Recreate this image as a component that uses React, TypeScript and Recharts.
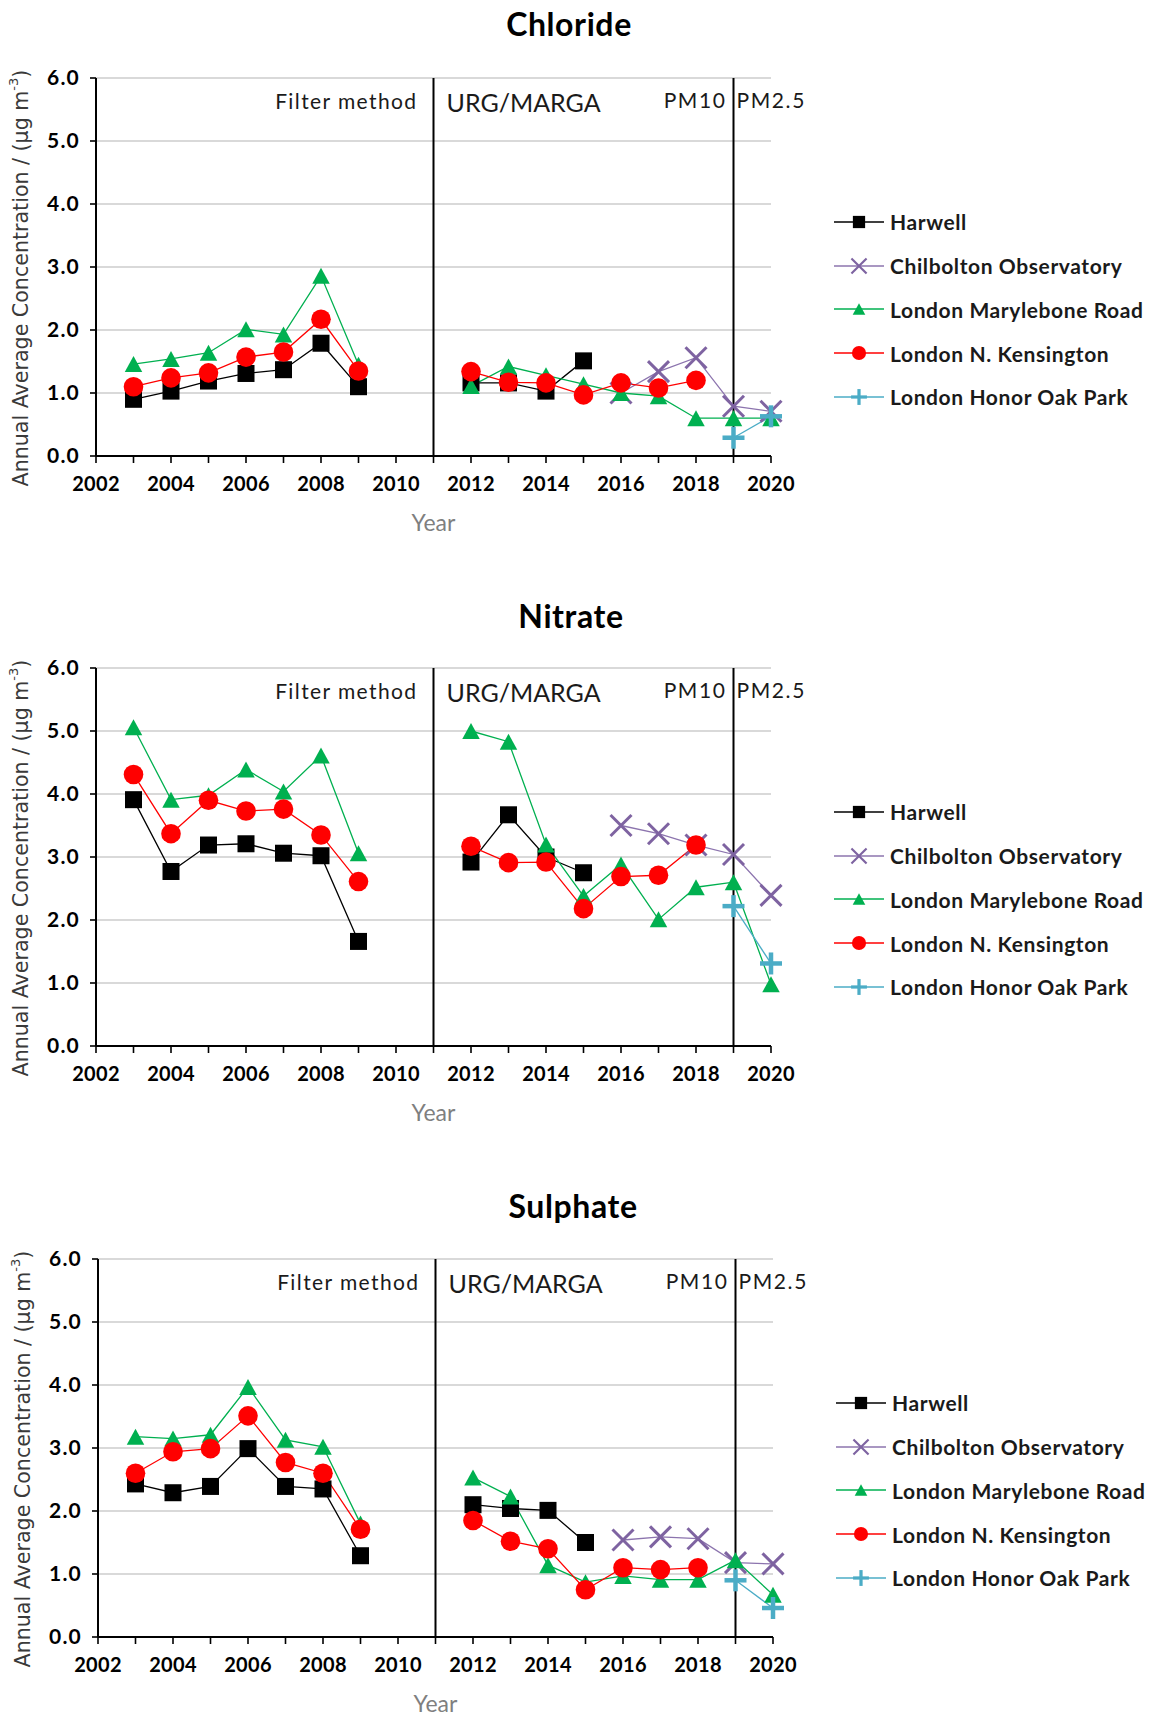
import React from 'react';
import { LineChart, Line, XAxis, YAxis, CartesianGrid, ReferenceLine, Legend } from 'recharts';

// Sampling years (2010 and 2011 carry no data so the series break between the two methods)
const years = [2003, 2004, 2005, 2006, 2007, 2008, 2009, 2010, 2011, 2012, 2013, 2014, 2015, 2016, 2017, 2018, 2019, 2020];
const yearTicks = [2002, 2003, 2004, 2005, 2006, 2007, 2008, 2009, 2010, 2011, 2012, 2013, 2014, 2015, 2016, 2017, 2018, 2019, 2020];
const concentrationTicks = [0, 1, 2, 3, 4, 5, 6];

// Chloride (µg m-3)
const chlorideHarwell = [0.9, 1.03, 1.19, 1.31, 1.37, 1.79, 1.1, null, null, 1.16, 1.16, 1.03, 1.51, null, null, null, null, null];
const chlorideChilbolton = [null, null, null, null, null, null, null, null, null, null, null, null, null, 1.0, 1.34, 1.56, 0.79, 0.71];
const chlorideMarylebone = [1.46, 1.54, 1.64, 2.01, 1.93, 2.86, 1.45, null, null, 1.11, 1.42, 1.28, 1.14, 1.0, 0.95, 0.6, 0.6, 0.6];
const chlorideKensington = [1.1, 1.24, 1.32, 1.57, 1.65, 2.17, 1.35, null, null, 1.34, 1.17, 1.16, 0.97, 1.16, 1.08, 1.2, null, null];
const chlorideHonorOak = [null, null, null, null, null, null, null, null, null, null, null, null, null, null, null, null, 0.29, 0.63];

// Nitrate (µg m-3)
const nitrateHarwell = [3.91, 2.77, 3.19, 3.21, 3.06, 3.02, 1.66, null, null, 2.92, 3.67, 3.0, 2.75, null, null, null, null, null];
const nitrateChilbolton = [null, null, null, null, null, null, null, null, null, null, null, null, null, 3.5, 3.37, 3.19, 3.04, 2.39];
const nitrateMarylebone = [5.06, 3.91, 3.98, 4.39, 4.04, 4.61, 3.06, null, null, 5.0, 4.83, 3.2, 2.38, 2.88, 2.01, 2.52, 2.6, 0.98];
const nitrateKensington = [4.31, 3.37, 3.9, 3.73, 3.76, 3.35, 2.61, null, null, 3.17, 2.91, 2.92, 2.18, 2.69, 2.71, 3.19, null, null];
const nitrateHonorOak = [null, null, null, null, null, null, null, null, null, null, null, null, null, null, null, null, 2.22, 1.31];

// Sulphate (µg m-3)
const sulphateHarwell = [2.43, 2.29, 2.39, 2.99, 2.39, 2.35, 1.29, null, null, 2.1, 2.04, 2.01, 1.5, null, null, null, null, null];
const sulphateChilbolton = [null, null, null, null, null, null, null, null, null, null, null, null, null, 1.54, 1.59, 1.56, 1.18, 1.16];
const sulphateMarylebone = [3.18, 3.15, 3.21, 3.97, 3.13, 3.02, 1.8, null, null, 2.53, 2.23, 1.14, 0.87, 0.97, 0.91, 0.91, 1.22, 0.67];
const sulphateKensington = [2.6, 2.94, 2.99, 3.51, 2.77, 2.6, 1.71, null, null, 1.85, 1.52, 1.4, 0.75, 1.1, 1.07, 1.1, null, null];
const sulphateHonorOak = [null, null, null, null, null, null, null, null, null, null, null, null, null, null, null, null, 0.9, 0.46];

type Shape = 'square' | 'cross' | 'triangle' | 'circle' | 'plus';

const SERIES: { key: string; name: string; color: string; line: string; shape: Shape }[] = [
  { key: 'harwell', name: 'Harwell', color: '#000000', line: '#000000', shape: 'square' },
  { key: 'chilbolton', name: 'Chilbolton Observatory', color: '#7E63A1', line: '#8C74AE', shape: 'cross' },
  { key: 'marylebone', name: 'London Marylebone Road', color: '#00B050', line: '#00B050', shape: 'triangle' },
  { key: 'kensington', name: 'London N. Kensington', color: '#FF0000', line: '#FF0000', shape: 'circle' },
  { key: 'honorOak', name: 'London Honor Oak Park', color: '#4BACC6', line: '#4BACC6', shape: 'plus' },
];

function buildRows(h: (number | null)[], c: (number | null)[], m: (number | null)[], k: (number | null)[], o: (number | null)[]) {
  return years.map((year, i) => ({
    year,
    harwell: h[i],
    chilbolton: c[i],
    marylebone: m[i],
    kensington: k[i],
    honorOak: o[i],
  }));
}

const PANELS = [
  { title: 'Chloride', top: 0, left: 0, titleX: 569, titleY: 24, rows: buildRows(chlorideHarwell, chlorideChilbolton, chlorideMarylebone, chlorideKensington, chlorideHonorOak) },
  { title: 'Nitrate', top: 590, left: 0, titleX: 571, titleY: 26, rows: buildRows(nitrateHarwell, nitrateChilbolton, nitrateMarylebone, nitrateKensington, nitrateHonorOak) },
  { title: 'Sulphate', top: 1181, left: 2, titleX: 571, titleY: 25, rows: buildRows(sulphateHarwell, sulphateChilbolton, sulphateMarylebone, sulphateKensington, sulphateHonorOak) },
];

const FONT = 'Lato, "Open Sans", sans-serif';

function markerShape(shape: Shape, color: string, cx: number, cy: number, scale: number, key?: string) {
  switch (shape) {
    case 'square': {
      const s = 17 * scale;
      return <rect key={key} x={cx - s / 2} y={cy - s / 2} width={s} height={s} fill={color} />;
    }
    case 'circle':
      return <circle key={key} cx={cx} cy={cy} r={9.8 * scale} fill={color} />;
    case 'triangle': {
      const w = 17.5 * scale;
      const h = 16 * scale;
      return (
        <polygon
          key={key}
          points={`${cx},${cy - h / 2} ${cx - w / 2},${cy + h / 2} ${cx + w / 2},${cy + h / 2}`}
          fill={color}
        />
      );
    }
    case 'cross': {
      const a = 10.5 * scale;
      return (
        <g key={key} stroke={color} strokeWidth={3 * scale}>
          <line x1={cx - a} y1={cy - a} x2={cx + a} y2={cy + a} />
          <line x1={cx - a} y1={cy + a} x2={cx + a} y2={cy - a} />
        </g>
      );
    }
    case 'plus': {
      const a = 11 * scale;
      return (
        <g key={key} stroke={color} strokeWidth={4.5 * scale}>
          <line x1={cx - a} y1={cy} x2={cx + a} y2={cy} />
          <line x1={cx} y1={cy - a} x2={cx} y2={cy + a} />
        </g>
      );
    }
  }
  return null;
}

function makeDot(shape: Shape, color: string, seriesKey: string) {
  return (props: any) => {
    const { cx, cy, value, index } = props;
    const k = `${seriesKey}-${index}`;
    if (cx == null || cy == null || value == null || (Array.isArray(value) && value[1] == null)) {
      return <g key={k} />;
    }
    return markerShape(shape, color, cx, cy, 1, k) as any;
  };
}

function MethodLabels(props: any) {
  const { viewBox, leftText, rightText, leftGap, rightGap, leftSize, rightSize, leftDy, rightDy, leftSpacing, rightSpacing } = props;
  if (!viewBox) return null;
  const x = viewBox.x;
  const y = viewBox.y;
  return (
    <g fontFamily={FONT} fill="#1A1A1A">
      <text x={x - leftGap} y={y + leftDy} textAnchor="end" fontSize={leftSize} letterSpacing={leftSpacing}>
        {leftText}
      </text>
      <text x={x + rightGap} y={y + rightDy} textAnchor="start" fontSize={rightSize} letterSpacing={rightSpacing}>
        {rightText}
      </text>
    </g>
  );
}

function YTitle(props: any) {
  const { viewBox } = props;
  if (!viewBox) return null;
  const x = viewBox.x + 21;
  const y = viewBox.y + viewBox.height / 2 + 11;
  return (
    <text
      x={x}
      y={y}
      transform={`rotate(-90, ${x}, ${y})`}
      textAnchor="middle"
      dominantBaseline="central"
      fontFamily='"DejaVu Sans", sans-serif'
      fontSize={20.6}
      fill="#3A3A3A"
    >
      Annual Average Concentration / (µg m
      <tspan dy={-8} fontSize={13}>-3</tspan>
      <tspan dy={8}>)</tspan>
    </text>
  );
}

function XTitle(props: any) {
  const { viewBox } = props;
  if (!viewBox) return null;
  return (
    <text
      x={viewBox.x + viewBox.width / 2}
      y={viewBox.y + 66}
      textAnchor="middle"
      dominantBaseline="central"
      fontFamily={FONT}
      fontSize={23}
      fill="#7F7F7F"
    >
      Year
    </text>
  );
}

function SiteLegend() {
  return (
    <div style={{ display: 'flex', flexDirection: 'column' }}>
      {SERIES.map((s) => (
        <div key={s.key} style={{ height: 43.75, display: 'flex', alignItems: 'center' }}>
          <svg width={52} height={26} style={{ display: 'block' }}>
            <line x1={1} x2={51} y1={13} y2={13} stroke={s.line} strokeWidth={1.4} />
            {markerShape(s.shape, s.color, 26, 13, 0.72)}
          </svg>
          <span
            style={{
              marginLeft: 5,
              fontFamily: FONT,
              fontWeight: 700,
              fontSize: 21,
              letterSpacing: 0.6,
              color: '#1A1A1A',
              whiteSpace: 'nowrap',
            }}
          >
            {s.name}
          </span>
        </div>
      ))}
    </div>
  );
}

function Panel({ panel }: { panel: (typeof PANELS)[number] }) {
  return (
    <div style={{ position: 'absolute', left: panel.left, top: panel.top, width: 1149, height: 590 }}>
      <div
        style={{
          position: 'absolute',
          left: panel.titleX - 150,
          width: 300,
          top: panel.titleY - 20,
          height: 40,
          lineHeight: '40px',
          textAlign: 'center',
          fontFamily: FONT,
          fontWeight: 700,
          fontSize: 32,
          letterSpacing: 0.6,
          color: '#000',
        }}
      >
        {panel.title}
      </div>
      <LineChart
        width={1149}
        height={590}
        data={panel.rows}
        margin={{ top: 78, right: 378, bottom: 74, left: 0 }}
      >
        <CartesianGrid vertical={false} stroke="#D9D9D9" strokeWidth={2} />
        <XAxis
          dataKey="year"
          type="number"
          domain={[2002, 2020]}
          ticks={yearTicks}
          interval={0}
          allowDecimals={false}
          tickFormatter={(v: number) => (v % 2 === 0 ? String(v) : '')}
          height={60}
          tickSize={7}
          tickMargin={14}
          axisLine={{ stroke: '#000', strokeWidth: 2 }}
          tickLine={{ stroke: '#000', strokeWidth: 1.6 }}
          tick={{ fontFamily: FONT, fontWeight: 700, fontSize: 20, fill: '#000', letterSpacing: 0.3 }}
          label={<XTitle />}
        />
        <YAxis
          type="number"
          domain={[0, 6]}
          ticks={concentrationTicks}
          interval={0}
          width={96}
          tickSize={6}
          tickMargin={10}
          tickFormatter={(v: number) => v.toFixed(1)}
          axisLine={{ stroke: '#000', strokeWidth: 2 }}
          tickLine={{ stroke: '#000', strokeWidth: 1.6 }}
          tick={{ fontFamily: FONT, fontWeight: 700, fontSize: 21, fill: '#000', letterSpacing: 1.2 }}
          label={<YTitle />}
        />
        <ReferenceLine
          x={2011}
          stroke="#000"
          strokeWidth={2}
          label={
            <MethodLabels
              leftText="Filter method"
              rightText="URG/MARGA"
              leftGap={16}
              rightGap={13}
              leftSize={21}
              rightSize={25}
              leftDy={31}
              rightDy={34}
              leftSpacing={1.4}
              rightSpacing={0}
            />
          }
        />
        <ReferenceLine
          x={2019}
          stroke="#000"
          strokeWidth={2}
          label={
            <MethodLabels
              leftText="PM10"
              rightText="PM2.5"
              leftGap={7}
              rightGap={3}
              leftSize={21}
              rightSize={21}
              leftDy={30}
              rightDy={30}
              leftSpacing={1.6}
              rightSpacing={1.6}
            />
          }
        />
        {SERIES.map((s) => (
          <Line
            key={s.key}
            dataKey={s.key}
            name={s.name}
            stroke={s.line}
            strokeWidth={1.3}
            dot={makeDot(s.shape, s.color, s.key)}
            activeDot={false}
            isAnimationActive={false}
          />
        ))}
        <Legend
          layout="vertical"
          align="center"
          verticalAlign="middle"
          content={<SiteLegend />}
          wrapperStyle={{ left: 833, top: 200, width: 316 }}
        />
      </LineChart>
    </div>
  );
}

export default function App() {
  return (
    <div style={{ position: 'absolute', left: 0, top: 0, width: 1149, height: 1718, background: '#fff' }}>
      {PANELS.map((p) => (
        <Panel key={p.title} panel={p} />
      ))}
    </div>
  );
}
